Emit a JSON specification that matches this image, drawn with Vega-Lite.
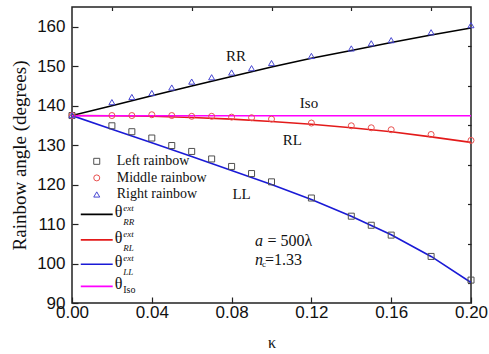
{
  "$schema": "https://vega.github.io/schema/vega-lite/v6.json",
  "width": 399,
  "height": 296,
  "autosize": "none",
  "padding": {"left": 72, "top": 7, "right": 18, "bottom": 51},
  "background": "white",
  "config": {
    "view": {"stroke": "#222222", "strokeWidth": 1.5},
    "axis": {
      "grid": false,
      "domain": false,
      "tickColor": "#222222",
      "tickWidth": 1.2,
      "labelFont": "Liberation Sans",
      "labelFontSize": 17,
      "labelColor": "#111111",
      "labelFlush": false,
      "labelOverlap": false,
      "titleFont": "Liberation Serif",
      "titleFontWeight": "normal",
      "titleColor": "#111111"
    }
  },
  "datasets": {
    "curves": [
      {"k": 0.0, "angle": 137.5, "series": "RR"},
      {"k": 0.02, "angle": 140.0, "series": "RR"},
      {"k": 0.04, "angle": 142.5, "series": "RR"},
      {"k": 0.06, "angle": 145.0, "series": "RR"},
      {"k": 0.08, "angle": 147.4, "series": "RR"},
      {"k": 0.10, "angle": 149.8, "series": "RR"},
      {"k": 0.12, "angle": 152.0, "series": "RR"},
      {"k": 0.14, "angle": 154.0, "series": "RR"},
      {"k": 0.16, "angle": 156.0, "series": "RR"},
      {"k": 0.18, "angle": 157.9, "series": "RR"},
      {"k": 0.20, "angle": 159.7, "series": "RR"},
      {"k": 0.0, "angle": 137.5, "series": "RL"},
      {"k": 0.02, "angle": 137.45, "series": "RL"},
      {"k": 0.04, "angle": 137.3, "series": "RL"},
      {"k": 0.06, "angle": 137.0, "series": "RL"},
      {"k": 0.08, "angle": 136.6, "series": "RL"},
      {"k": 0.10, "angle": 136.0, "series": "RL"},
      {"k": 0.12, "angle": 135.3, "series": "RL"},
      {"k": 0.14, "angle": 134.4, "series": "RL"},
      {"k": 0.16, "angle": 133.4, "series": "RL"},
      {"k": 0.18, "angle": 132.1, "series": "RL"},
      {"k": 0.20, "angle": 130.7, "series": "RL"},
      {"k": 0.0, "angle": 137.5, "series": "LL"},
      {"k": 0.02, "angle": 134.0, "series": "LL"},
      {"k": 0.04, "angle": 130.6, "series": "LL"},
      {"k": 0.06, "angle": 127.1, "series": "LL"},
      {"k": 0.08, "angle": 123.6, "series": "LL"},
      {"k": 0.10, "angle": 120.0, "series": "LL"},
      {"k": 0.12, "angle": 116.2, "series": "LL"},
      {"k": 0.14, "angle": 112.0, "series": "LL"},
      {"k": 0.16, "angle": 107.3, "series": "LL"},
      {"k": 0.18, "angle": 101.8, "series": "LL"},
      {"k": 0.20, "angle": 95.2, "series": "LL"},
      {"k": 0.0, "angle": 137.45, "series": "Iso"},
      {"k": 0.20, "angle": 137.45, "series": "Iso"}
    ],
    "points": [
      {"k": 0.0, "angle": 137.5, "series": "Left rainbow"},
      {"k": 0.02, "angle": 134.9, "series": "Left rainbow"},
      {"k": 0.03, "angle": 133.4, "series": "Left rainbow"},
      {"k": 0.04, "angle": 131.8, "series": "Left rainbow"},
      {"k": 0.05, "angle": 129.9, "series": "Left rainbow"},
      {"k": 0.06, "angle": 128.4, "series": "Left rainbow"},
      {"k": 0.07, "angle": 126.5, "series": "Left rainbow"},
      {"k": 0.08, "angle": 124.6, "series": "Left rainbow"},
      {"k": 0.09, "angle": 122.8, "series": "Left rainbow"},
      {"k": 0.10, "angle": 120.7, "series": "Left rainbow"},
      {"k": 0.12, "angle": 116.6, "series": "Left rainbow"},
      {"k": 0.14, "angle": 112.0, "series": "Left rainbow"},
      {"k": 0.15, "angle": 109.7, "series": "Left rainbow"},
      {"k": 0.16, "angle": 107.2, "series": "Left rainbow"},
      {"k": 0.18, "angle": 101.8, "series": "Left rainbow"},
      {"k": 0.20, "angle": 95.8, "series": "Left rainbow"},
      {"k": 0.0, "angle": 137.5, "series": "Middle rainbow"},
      {"k": 0.02, "angle": 137.5, "series": "Middle rainbow"},
      {"k": 0.03, "angle": 137.5, "series": "Middle rainbow"},
      {"k": 0.04, "angle": 137.7, "series": "Middle rainbow"},
      {"k": 0.05, "angle": 137.5, "series": "Middle rainbow"},
      {"k": 0.06, "angle": 137.3, "series": "Middle rainbow"},
      {"k": 0.07, "angle": 137.3, "series": "Middle rainbow"},
      {"k": 0.08, "angle": 137.1, "series": "Middle rainbow"},
      {"k": 0.09, "angle": 136.95, "series": "Middle rainbow"},
      {"k": 0.10, "angle": 136.6, "series": "Middle rainbow"},
      {"k": 0.12, "angle": 135.6, "series": "Middle rainbow"},
      {"k": 0.14, "angle": 134.9, "series": "Middle rainbow"},
      {"k": 0.15, "angle": 134.4, "series": "Middle rainbow"},
      {"k": 0.16, "angle": 133.9, "series": "Middle rainbow"},
      {"k": 0.18, "angle": 132.7, "series": "Middle rainbow"},
      {"k": 0.20, "angle": 131.2, "series": "Middle rainbow"},
      {"k": 0.0, "angle": 137.6, "series": "Right rainbow"},
      {"k": 0.02, "angle": 140.9, "series": "Right rainbow"},
      {"k": 0.03, "angle": 142.2, "series": "Right rainbow"},
      {"k": 0.04, "angle": 143.2, "series": "Right rainbow"},
      {"k": 0.05, "angle": 144.6, "series": "Right rainbow"},
      {"k": 0.06, "angle": 146.1, "series": "Right rainbow"},
      {"k": 0.07, "angle": 147.2, "series": "Right rainbow"},
      {"k": 0.08, "angle": 148.4, "series": "Right rainbow"},
      {"k": 0.09, "angle": 149.5, "series": "Right rainbow"},
      {"k": 0.10, "angle": 150.8, "series": "Right rainbow"},
      {"k": 0.12, "angle": 152.6, "series": "Right rainbow"},
      {"k": 0.14, "angle": 154.5, "series": "Right rainbow"},
      {"k": 0.15, "angle": 155.8, "series": "Right rainbow"},
      {"k": 0.16, "angle": 156.6, "series": "Right rainbow"},
      {"k": 0.18, "angle": 158.6, "series": "Right rainbow"},
      {"k": 0.20, "angle": 160.4, "series": "Right rainbow"}
    ],
    "legendMarkers": [
      {"k": 0.0124, "angle": 125.9, "series": "Left rainbow", "label": "Left rainbow"},
      {"k": 0.0124, "angle": 121.7, "series": "Middle rainbow", "label": "Middle rainbow"},
      {"k": 0.0124, "angle": 117.5, "series": "Right rainbow", "label": "Right rainbow"}
    ],
    "legendLines": [
      {"k": 0.0044, "k2": 0.0204, "angle": 112.45, "series": "RR", "sub": "RR"},
      {"k": 0.0044, "k2": 0.0204, "angle": 106.0, "series": "RL", "sub": "RL"},
      {"k": 0.0044, "k2": 0.0204, "angle": 99.8, "series": "LL", "sub": "LL"},
      {"k": 0.0044, "k2": 0.0204, "angle": 94.2, "series": "Iso", "sub": "Iso"}
    ],
    "notes": [
      {"k": 0.0822, "angle": 152.6, "label": "RR"},
      {"k": 0.1188, "angle": 140.7, "label": "Iso"},
      {"k": 0.1105, "angle": 131.2, "label": "RL"},
      {"k": 0.0850, "angle": 117.5, "label": "LL"}
    ],
    "params": [
      {"k": 0.0917, "angle": 105.7, "label": "a", "part": "italic"},
      {"k": 0.0980, "angle": 105.7, "label": "= 500λ", "part": "plain"},
      {"k": 0.0917, "angle": 100.9, "label": "n", "part": "italic"},
      {"k": 0.0967, "angle": 100.9, "label": "=1.33", "part": "plain"}
    ],
    "paramSub": [
      {"k": 0.0953, "angle": 99.8, "label": "c"}
    ]
  },
  "resolve": {"axis": {"x": "independent", "y": "independent"}},
  "layer": [
    {
      "data": {"name": "curves"},
      "mark": {"type": "line", "strokeWidth": 1.6, "clip": true},
      "encoding": {
        "x": {
          "field": "k", "type": "quantitative",
          "scale": {"domain": [0, 0.2], "nice": false, "zero": false},
          "axis": {
            "values": [0, 0.04, 0.08, 0.12, 0.16, 0.2],
            "format": ".2f",
            "tickSize": -6,
            "labelPadding": 7,
            "title": "κ",
            "titleFontSize": 16,
            "titlePadding": 14
          }
        },
        "y": {
          "field": "angle", "type": "quantitative",
          "scale": {"domain": [90, 165], "nice": false, "zero": false},
          "axis": {
            "values": [90, 100, 110, 120, 130, 140, 150, 160],
            "tickSize": -6,
            "labelPadding": 13,
            "title": "Rainbow angle (degrees)",
            "titleFontSize": 19,
            "titlePadding": 7
          }
        },
        "color": {
          "field": "series", "type": "nominal",
          "scale": {
            "domain": ["RR", "RL", "LL", "Iso", "Left rainbow", "Middle rainbow", "Right rainbow"],
            "range": ["#000000", "#e31a1a", "#1a1ad6", "#ff00ff", "#505050", "#e8504f", "#4646d2"]
          },
          "legend": null
        },
        "detail": {"field": "series"}
      }
    },
    {
      "data": {"name": "curves"},
      "mark": {"type": "point", "opacity": 0},
      "encoding": {
        "x": {
          "field": "k", "type": "quantitative",
          "axis": {
            "values": [0.02, 0.06, 0.1, 0.14, 0.18],
            "labels": false,
            "tickSize": -3.5,
            "title": null
          }
        },
        "y": {
          "field": "angle", "type": "quantitative",
          "axis": {
            "values": [95, 105, 115, 125, 135, 145, 155],
            "labels": false,
            "tickSize": -3.5,
            "title": null
          }
        }
      }
    },
    {
      "data": {"name": "points"},
      "mark": {"type": "point", "filled": false, "strokeWidth": 1, "size": 36, "opacity": 1},
      "encoding": {
        "x": {"field": "k", "type": "quantitative", "axis": null},
        "y": {"field": "angle", "type": "quantitative", "axis": null},
        "shape": {
          "field": "series", "type": "nominal",
          "scale": {"domain": ["Left rainbow", "Middle rainbow", "Right rainbow"], "range": ["square", "circle", "triangle-up"]},
          "legend": null
        },
        "color": {"field": "series", "type": "nominal", "legend": null}
      }
    },
    {
      "data": {"name": "legendMarkers"},
      "mark": {"type": "point", "filled": false, "strokeWidth": 1, "size": 36, "opacity": 1},
      "encoding": {
        "x": {"field": "k", "type": "quantitative", "axis": null},
        "y": {"field": "angle", "type": "quantitative", "axis": null},
        "shape": {"field": "series", "type": "nominal", "legend": null},
        "color": {"field": "series", "type": "nominal", "legend": null}
      }
    },
    {
      "data": {"name": "legendMarkers"},
      "mark": {"type": "text", "font": "Liberation Serif", "fontSize": 14, "align": "left", "baseline": "middle", "color": "#111111"},
      "encoding": {
        "x": {"datum": 0.0224, "type": "quantitative", "axis": null},
        "y": {"field": "angle", "type": "quantitative", "axis": null},
        "text": {"field": "label"}
      }
    },
    {
      "data": {"name": "legendLines"},
      "mark": {"type": "rule", "strokeWidth": 1.6},
      "encoding": {
        "x": {"field": "k", "type": "quantitative", "axis": null},
        "x2": {"field": "k2"},
        "y": {"field": "angle", "type": "quantitative", "axis": null},
        "color": {"field": "series", "type": "nominal", "legend": null}
      }
    },
    {
      "data": {"name": "legendLines"},
      "mark": {"type": "text", "font": "Liberation Serif", "fontSize": 16, "align": "left", "baseline": "middle", "dy": -2, "color": "#111111"},
      "encoding": {
        "x": {"datum": 0.0214, "type": "quantitative", "axis": null},
        "y": {"field": "angle", "type": "quantitative", "axis": null},
        "text": {"value": "θ"}
      }
    },
    {
      "data": {"name": "legendLines"},
      "transform": [{"filter": "datum.series !== 'Iso'"}],
      "mark": {"type": "text", "font": "Liberation Serif", "fontSize": 9, "fontStyle": "italic", "align": "left", "baseline": "middle", "dy": -6, "color": "#111111"},
      "encoding": {
        "x": {"datum": 0.0257, "type": "quantitative", "axis": null},
        "y": {"field": "angle", "type": "quantitative", "axis": null},
        "text": {"value": "ext"}
      }
    },
    {
      "data": {"name": "legendLines"},
      "transform": [{"filter": "datum.series !== 'Iso'"}],
      "mark": {"type": "text", "font": "Liberation Serif", "fontSize": 9, "fontStyle": "italic", "align": "left", "baseline": "middle", "dy": 8, "color": "#111111"},
      "encoding": {
        "x": {"datum": 0.0257, "type": "quantitative", "axis": null},
        "y": {"field": "angle", "type": "quantitative", "axis": null},
        "text": {"field": "sub"}
      }
    },
    {
      "data": {"name": "legendLines"},
      "transform": [{"filter": "datum.series === 'Iso'"}],
      "mark": {"type": "text", "font": "Liberation Serif", "fontSize": 10, "align": "left", "baseline": "middle", "dy": 4, "color": "#111111"},
      "encoding": {
        "x": {"datum": 0.0257, "type": "quantitative", "axis": null},
        "y": {"field": "angle", "type": "quantitative", "axis": null},
        "text": {"field": "sub"}
      }
    },
    {
      "data": {"name": "notes"},
      "mark": {"type": "text", "font": "Liberation Serif", "fontSize": 15, "align": "center", "baseline": "middle", "color": "#111111"},
      "encoding": {
        "x": {"field": "k", "type": "quantitative", "axis": null},
        "y": {"field": "angle", "type": "quantitative", "axis": null},
        "text": {"field": "label"}
      }
    },
    {
      "data": {"name": "params"},
      "transform": [{"filter": "datum.part === 'italic'"}],
      "mark": {"type": "text", "font": "Liberation Serif", "fontSize": 16, "fontStyle": "italic", "align": "left", "baseline": "middle", "color": "#111111"},
      "encoding": {
        "x": {"field": "k", "type": "quantitative", "axis": null},
        "y": {"field": "angle", "type": "quantitative", "axis": null},
        "text": {"field": "label"}
      }
    },
    {
      "data": {"name": "params"},
      "transform": [{"filter": "datum.part === 'plain'"}],
      "mark": {"type": "text", "font": "Liberation Serif", "fontSize": 16, "align": "left", "baseline": "middle", "color": "#111111"},
      "encoding": {
        "x": {"field": "k", "type": "quantitative", "axis": null},
        "y": {"field": "angle", "type": "quantitative", "axis": null},
        "text": {"field": "label"}
      }
    },
    {
      "data": {"name": "paramSub"},
      "mark": {"type": "text", "font": "Liberation Serif", "fontSize": 9, "align": "left", "baseline": "middle", "color": "#111111"},
      "encoding": {
        "x": {"field": "k", "type": "quantitative", "axis": null},
        "y": {"field": "angle", "type": "quantitative", "axis": null},
        "text": {"field": "label"}
      }
    }
  ]
}
